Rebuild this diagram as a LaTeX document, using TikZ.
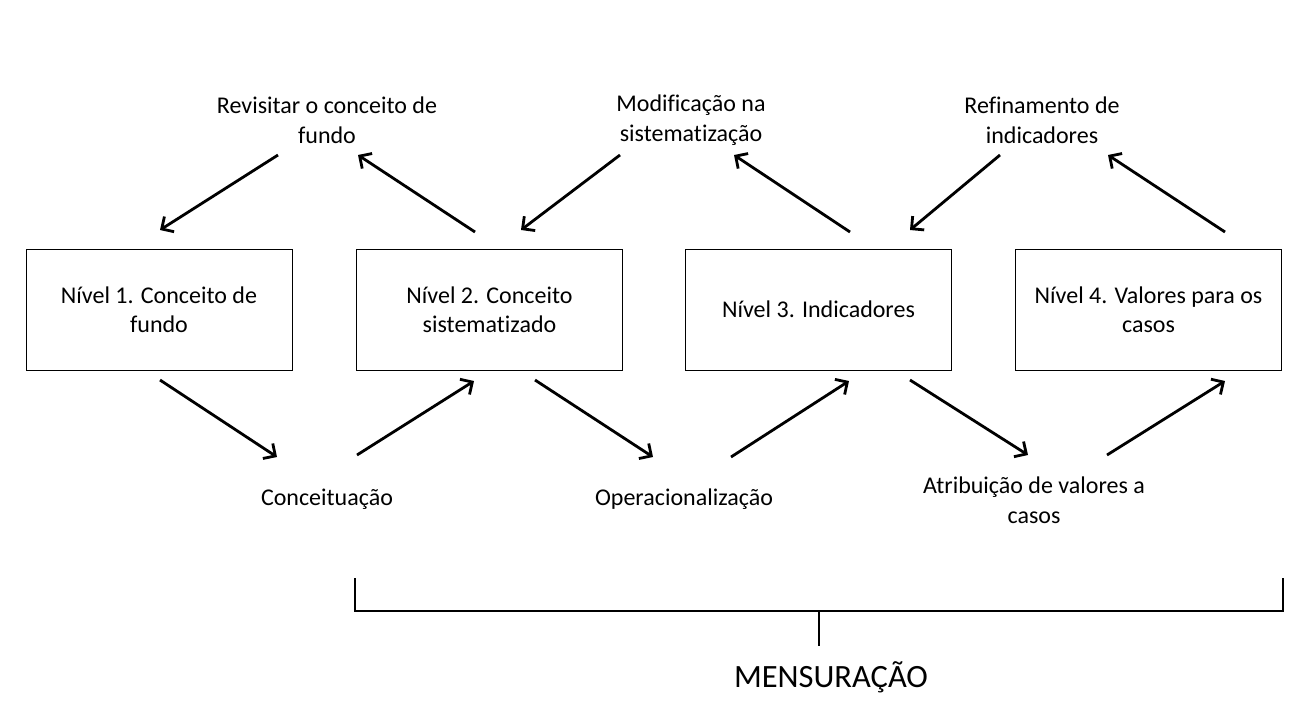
\documentclass[tikz,border=0pt]{standalone}
\usepackage{fontspec}
\setmainfont[Ligatures=CommonOff]{Carlito}
\usetikzlibrary{arrows.meta}
\begin{document}
\begin{tikzpicture}[x=1pt,y=-1pt,
  box/.style={draw,line width=1pt,minimum width=266pt,minimum height=121pt,align=center,font=\fontsize{24}{29.5}\selectfont,inner sep=0pt},
  lbl/.style={align=center,font=\fontsize{24}{30}\selectfont,inner sep=0pt},
  arr/.style={line width=2.8pt,-{Straight Barb[length=9pt,width=18pt,line width=2.8pt]}},
  brk/.style={line width=2.8pt}]
\useasboundingbox (0,0) rectangle (1296,716);
\node[box] (n1) at (159,309.5) {Nível 1. Conceito de\\fundo};
\node[box] (n2) at (489.5,309.5) {Nível 2. Conceito\\sistematizado};
\node[box] (n3) at (818.5,309.5) {Nível 3. Indicadores};
\node[box] (n4) at (1148.5,309.5) {Nível 4. Valores para os\\casos};
\node[lbl] (t1) at (327,120) {Revisitar o conceito de\\fundo};
\node[lbl] (t2) at (691,120) {Modificação na\\sistematização};
\node[lbl] (t3) at (1042,120) {Refinamento de\\indicadores};
\node[lbl] (b1) at (327,499) {Conceituação};
\node[lbl] (b2) at (684,499) {Operacionalização};
\node[lbl] (b3) at (1034,500) {Atribuição de valores a\\casos};
\node[lbl,font=\fontsize{32.5}{38}\selectfont] (m) at (831,677) {MENSURAÇÃO};
% top arrow coordinates
\coordinate (a1s) at (278,155); \coordinate (a1e) at (160,230);
\coordinate (a2s) at (475,232); \coordinate (a2e) at (358,155);
\coordinate (a3s) at (620,155); \coordinate (a3e) at (521,230);
\coordinate (a4s) at (850,232); \coordinate (a4e) at (734,155);
\coordinate (a5s) at (1000,155); \coordinate (a5e) at (910,230);
\coordinate (a6s) at (1225,232); \coordinate (a6e) at (1108,155);
\draw[arr] (a1s) -- (a1e);
\draw[arr] (a2s) -- (a2e);
\draw[arr] (a3s) -- (a3e);
\draw[arr] (a4s) -- (a4e);
\draw[arr] (a5s) -- (a5e);
\draw[arr] (a6s) -- (a6e);
% bottom arrows
\coordinate (c1s) at (160,380); \coordinate (c1e) at (277,457);
\coordinate (c2s) at (357,455); \coordinate (c2e) at (474,381);
\coordinate (c3s) at (535,380); \coordinate (c3e) at (653,457);
\coordinate (c4s) at (731,457); \coordinate (c4e) at (849,381);
\coordinate (c5s) at (910,380); \coordinate (c5e) at (1028,455);
\coordinate (c6s) at (1107,455); \coordinate (c6e) at (1225,381);
\draw[arr] (c1s) -- (c1e);
\draw[arr] (c2s) -- (c2e);
\draw[arr] (c3s) -- (c3e);
\draw[arr] (c4s) -- (c4e);
\draw[arr] (c5s) -- (c5e);
\draw[arr] (c6s) -- (c6e);
% bracket
\coordinate (kl) at (355,578); \coordinate (kr) at (1283,578);
\coordinate (kc) at (819,611); \coordinate (kt) at (819,646);
\draw[brk,line join=miter] (kl) -- (355,611) -- (1283,611) -- (kr);
\draw[brk] (kc) -- (kt);
\end{tikzpicture}
\end{document}
